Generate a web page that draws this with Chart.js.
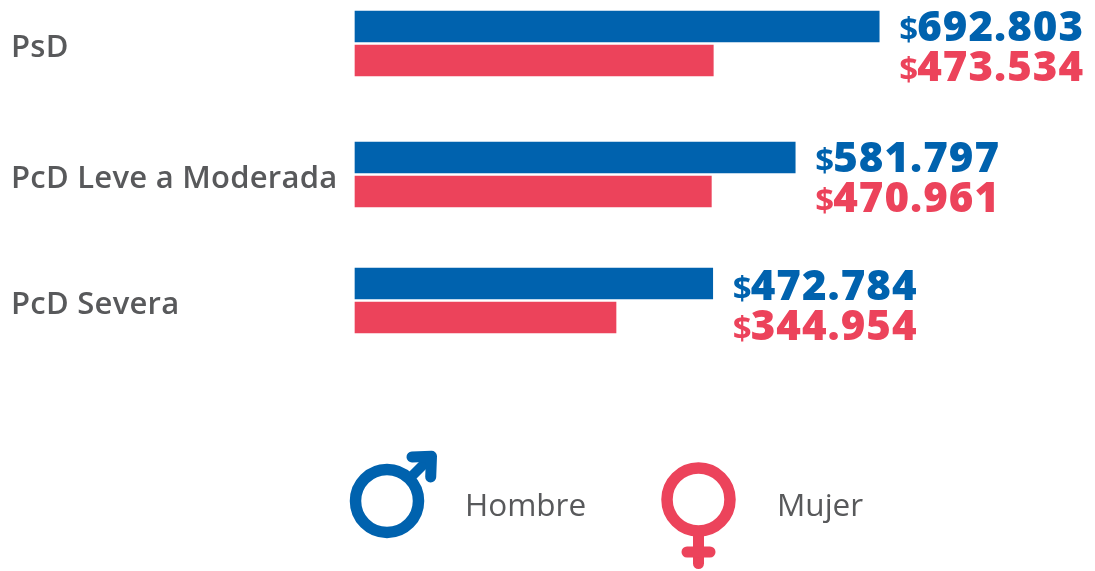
<!DOCTYPE html>
<html><head><meta charset="utf-8">
<style>html,body{margin:0;padding:0;background:#fff}canvas{display:block}</style>
<script src="https://cdn.jsdelivr.net/npm/chart.js@4"></script>
</head><body>
<canvas id="c" width="1095" height="571"></canvas>
<script>
const categories = ["PsD", "PcD Leve a Moderada", "PcD Severa"];
const hombre = [692803, 581797, 472784];
const mujer = [473534, 470961, 344954];
const legendLabels = ["Hombre", "Mujer"];
const BLUE = "#0062AE", RED = "#EC435B", GRAY = "#58595B";
const fmt = v => String(v).replace(/\B(?=(\d{3})+$)/g, ".");

// Category scale whose rows are not quite evenly spaced, as in the reference
const rowNudge = [0, 2.5, 0];
class RowScale extends Chart.CategoryScale {
  getPixelForValue(value, index) {
    const v = typeof value === "number" ? value : this.parse(value);
    return super.getPixelForValue(v, index) + (rowNudge[v] || 0);
  }
  getPixelForTick(index) {
    return this.getPixelForValue(index) + 4.5;
  }
}
RowScale.id = "rowCategory";
RowScale.defaults = Chart.CategoryScale.defaults;
Chart.register(RowScale);

const textSpacing = {
  id: "textSpacing",
  beforeDraw(chart) { chart.ctx.letterSpacing = "0.25px"; }
};

const valueLabels = {
  id: "valueLabels",
  afterDatasetsDraw(chart) {
    const ctx = chart.ctx;
    const blueMeta = chart.getDatasetMeta(0);
    ctx.save();
    ctx.textBaseline = "alphabetic";
    ctx.textAlign = "left";
    chart.data.datasets.forEach((ds, i) => {
      const meta = chart.getDatasetMeta(i);
      meta.data.forEach((bar, j) => {
        const x = blueMeta.data[j].x + 20;
        const y = bar.y + (i === 0 ? 14.5 : 20.5) + (j === 2 ? 2 : 0);
        ctx.fillStyle = ds.backgroundColor;
        ctx.letterSpacing = "0px";
        ctx.font = "700 33px 'Open Sans', sans-serif";
        ctx.fillText("$", x, y);
        ctx.letterSpacing = "1px";
        ctx.font = "800 42px 'Open Sans', sans-serif";
        ctx.fillText(fmt(ds.data[j]), x + 18, y);
      });
    });
    ctx.restore();
  }
};

const genderLegend = {
  id: "genderLegend",
  afterDraw(chart) {
    const ctx = chart.ctx;
    ctx.save();
    // male symbol
    ctx.strokeStyle = BLUE;
    ctx.lineWidth = 11.5;
    ctx.beginPath(); ctx.arc(387, 501, 31.5, 0, Math.PI * 2); ctx.stroke();
    ctx.lineCap = "butt";
    ctx.lineWidth = 10;
    ctx.beginPath(); ctx.moveTo(408, 480); ctx.lineTo(430, 458); ctx.stroke();
    ctx.lineCap = "round";
    ctx.lineJoin = "round";
    ctx.lineWidth = 11;
    ctx.beginPath(); ctx.moveTo(412, 457); ctx.lineTo(431.5, 456.2); ctx.lineTo(430.7, 477); ctx.stroke();
    // female symbol
    ctx.strokeStyle = RED;
    ctx.lineWidth = 11.5;
    ctx.beginPath(); ctx.arc(698.5, 499.5, 31.5, 0, Math.PI * 2); ctx.stroke();
    ctx.lineWidth = 11;
    ctx.lineCap = "butt";
    ctx.beginPath(); ctx.moveTo(698.5, 535); ctx.lineTo(698.5, 552); ctx.stroke();
    ctx.lineCap = "round";
    ctx.beginPath(); ctx.moveTo(698.5, 552); ctx.lineTo(698.5, 563.5); ctx.stroke();
    ctx.beginPath(); ctx.moveTo(687, 552); ctx.lineTo(710, 552); ctx.stroke();
    // labels
    ctx.fillStyle = GRAY;
    ctx.letterSpacing = "0px";
    ctx.font = "400 31.5px 'Open Sans', sans-serif";
    ctx.textBaseline = "alphabetic";
    ctx.fillText(legendLabels[0], 465, 516);
    ctx.fillText(legendLabels[1], 777, 516);
    ctx.restore();
  }
};

new Chart(document.getElementById("c"), {
  type: "bar",
  data: {
    labels: categories,
    datasets: [
      { label: legendLabels[0], data: hombre, backgroundColor: BLUE, barThickness: 34, maxBarThickness: 31, borderWidth: 0, clip: false },
      { label: legendLabels[1], data: mujer, backgroundColor: RED, barThickness: 34, maxBarThickness: 31, borderWidth: 0, clip: false }
    ]
  },
  options: {
    indexAxis: "y",
    responsive: false,
    animation: false,
    layout: { padding: { top: 43.5, bottom: 270.5, left: 11, right: 0 } },
    plugins: { legend: { display: false }, tooltip: { enabled: false } },
    scales: {
      x: { display: false, min: 0, max: 978000 },
      y: {
        type: "rowCategory",
        offset: false,
        border: { display: false },
        grid: { display: false },
        afterFit(s) { s.width = 344; s.paddingTop = 0; s.paddingBottom = 0; },
        ticks: { color: GRAY, font: { family: "'Open Sans', sans-serif", size: 31, weight: "600" }, crossAlign: "far", padding: 18 }
      }
    }
  },
  plugins: [textSpacing, valueLabels, genderLegend]
});
</script>
</body></html>
